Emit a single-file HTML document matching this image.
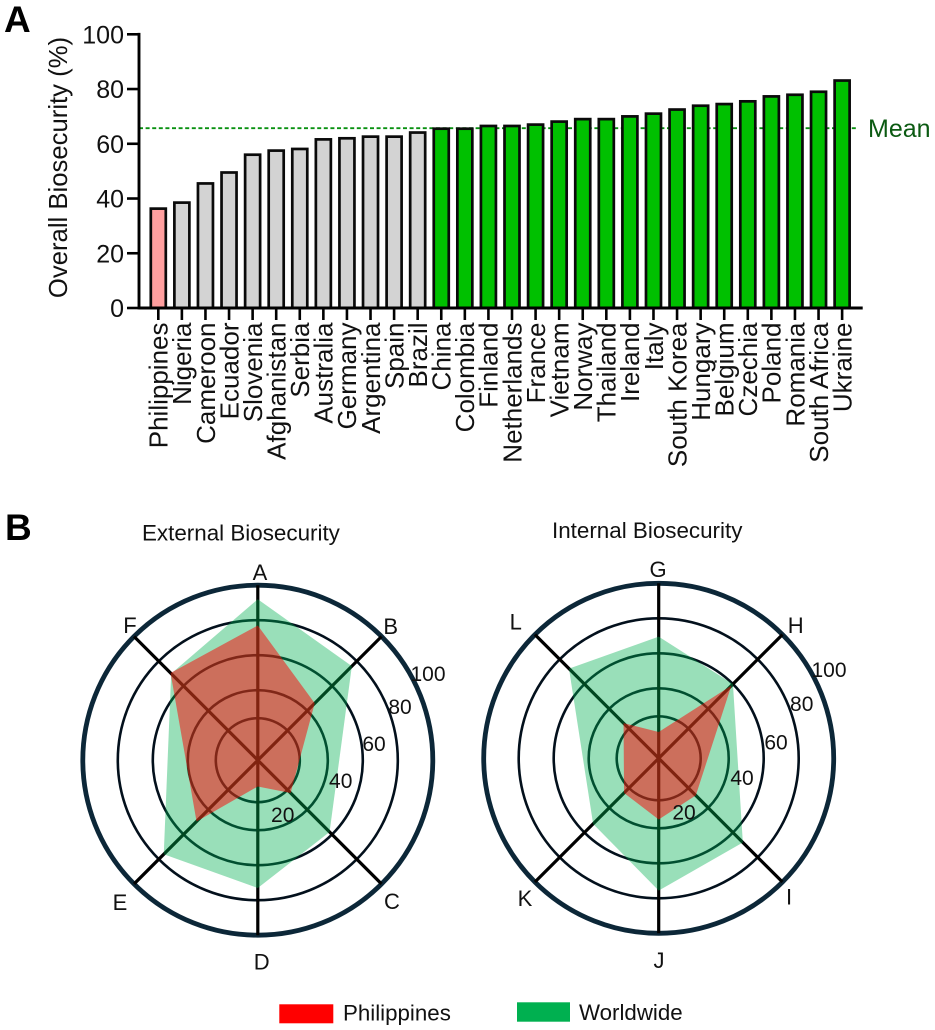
<!DOCTYPE html>
<html lang="en">
<head>
<meta charset="utf-8">
<title>Biosecurity chart</title>
<style>
html,body{margin:0;padding:0;background:#fff;width:935px;height:1030px;overflow:hidden}
svg{display:block;font-family:"Liberation Sans",Arial,sans-serif}
</style>
</head>
<body>
<svg id="chart" xmlns="http://www.w3.org/2000/svg" width="935" height="1030" viewBox="0 0 935 1030">
<text x="4" y="32" font-size="37" font-weight="700" fill="#000">A</text>
<text x="5" y="540" font-size="37" font-weight="700" fill="#000">B</text>
<text x="142" y="540.5" font-size="22.4" fill="#111">External Biosecurity</text>
<text x="552" y="538" font-size="22.4" fill="#111">Internal Biosecurity</text>
<text transform="translate(67,167.5) rotate(-90)" text-anchor="middle" font-size="25.7" fill="#111">Overall Biosecurity (%)</text>
<text x="868" y="137" font-size="25" fill="#0b5a12">Mean</text>
<g id="bars"></g>
<g id="radar-left"></g>
<g id="radar-right"></g>
<rect x="279.3" y="1004.3" width="54" height="19" fill="#ff0000"/>
<text x="343" y="1020.5" font-size="22.3" fill="#111">Philippines</text>
<rect x="517" y="1002.3" width="53" height="19.4" fill="#00b050"/>
<text x="579" y="1020" font-size="22.3" fill="#111">Worldwide</text>
</svg>
<script>
const countries = ["Philippines","Nigeria","Cameroon","Ecuador","Slovenia","Afghanistan","Serbia","Australia","Germany","Argentina","Spain","Brazil","China","Colombia","Finland","Netherlands","France","Vietnam","Norway","Thailand","Ireland","Italy","South Korea","Hungary","Belgium","Czechia","Poland","Romania","South Africa","Ukraine"];
const overallScores = [36.8,39,46,50,56.5,58,58.6,62.1,62.5,63.1,63.1,64.6,66,66,67,67,67.5,68.6,69.5,69.5,70.5,71.5,73,74.4,75,76,77.8,78.4,79.5,83.6];
const meanScore = 65.7;
const yTicks = [0,20,40,60,80,100];
const externalAxes = ["A","B","C","D","E","F"];
const externalWorldwide = [92,76,58,73,76,70];
const externalPhilippines = [77,46,26.5,15,49.5,70.5];
const internalAxes = ["G","H","I","J","K","L"];
const internalWorldwide = [69.5,60,68,75.6,53,72.5];
const internalPhilippines = [15,58.7,30,35,28,28.4];
const ringValues = [24,40,60,80,100];
const ringLabels = ["20","40","60","80","100"];

const NS = "http://www.w3.org/2000/svg";
function make(tag, parent, attrs, text) {
  const el = document.createElementNS(NS, tag);
  for (const k in attrs) el.setAttribute(k, attrs[k]);
  if (text !== undefined) el.textContent = text;
  parent.appendChild(el);
  return el;
}

/* ---------- bar chart ---------- */
const plot = {x0:139, y0:308, yTop:34.3, first:158.3, step:23.58, barW:15, right:862.7};
const yScale = v => plot.y0 - (v / 100) * (plot.y0 - plot.yTop);
const xScale = i => plot.first + i * plot.step;
const barsG = document.getElementById("bars");

const meanLine = make("line", barsG, {x1:plot.x0, x2:858, y1:yScale(meanScore), y2:yScale(meanScore), stroke:"#089010", "stroke-width":1.8, "stroke-dasharray":"4 2.6"});



countries.forEach((name, i) => {
  const fill = i === 0 ? "#ff9f9f" : (overallScores[i] >= meanScore ? "#00c000" : "#d3d3d3");
  const y = yScale(overallScores[i]);
  const bar = make("rect", barsG, {x:xScale(i) - plot.barW / 2, y:y + 1.35, width:plot.barW, height:plot.y0 - y - 1.35, fill:fill, stroke:"#0a0a0a", "stroke-width":2.7});
  
  
  const tick = make("line", barsG, {x1:xScale(i), x2:xScale(i), y1:plot.y0, y2:320, stroke:"#000", "stroke-width":2.6});
  
  
  const label = make("text", barsG, {transform:"translate(" + (xScale(i) + 9.3) + ",322.5) rotate(-90)", "text-anchor":"end", "font-size":26, fill:"#111"}, name);
  
  
});

const yAxis = make("line", barsG, {x1:plot.x0, x2:plot.x0, y1:plot.yTop - 1.4, y2:plot.y0 + 1.4, stroke:"#000", "stroke-width":2.9});


const xAxis = make("line", barsG, {x1:plot.x0, x2:plot.right, y1:plot.y0, y2:plot.y0, stroke:"#000", "stroke-width":2.9});


yTicks.forEach(v => {
  const t = make("line", barsG, {x1:127, x2:plot.x0, y1:yScale(v), y2:yScale(v), stroke:"#000", "stroke-width":2.6});
  
  
  const l = make("text", barsG, {x:124, y:yScale(v) + 9, "text-anchor":"end", "font-size":25, fill:"#111"}, String(v));
  
  
});

/* ---------- radar charts ---------- */
const axisAngles = [0,45,135,180,225,315];
function radar(group, cx, cy, axes, world, phil, axisLabelPos, ringLabelPos) {
  const unit = 1.75;
  const pt = (v, k) => {
    const a = axisAngles[k] * Math.PI / 180;
    return [cx + v * unit * Math.sin(a), cy - v * unit * Math.cos(a)];
  };
  ringValues.forEach(v => {
    const outer = v === 100;
    const ring = make("circle", group, {cx:cx, cy:cy, r:v * unit, fill:"none", stroke:outer ? "#0c2738" : "#03101c", "stroke-width":outer ? 4.8 : 2.6});
    
    
  });
  axes.forEach((a, k) => {
    const e = pt(100, k);
    const sp = make("line", group, {x1:cx, y1:cy, x2:e[0], y2:e[1], stroke:"#000", "stroke-width":3.2});
    
    
  });
  const worldPoly = make("polygon", group, {points:world.map((v, k) => pt(v, k).join(",")).join(" "), fill:"#00b050", "fill-opacity":0.4});
  
  
  const philPoly = make("polygon", group, {points:phil.map((v, k) => pt(v, k).join(",")).join(" "), fill:"#ff0000", "fill-opacity":0.5});
  
  
  axes.forEach((a, k) => {
    const t = make("text", group, {x:axisLabelPos[k][0], y:axisLabelPos[k][1] + 8, "text-anchor":"middle", "font-size":22, fill:"#111"}, a);
    
    
  });
  ringLabels.forEach((s, k) => {
    const t = make("text", group, {x:ringLabelPos[k][0], y:ringLabelPos[k][1] + 8, "text-anchor":"middle", "font-size":21, fill:"#111"}, s);
    
    
  });
}
radar(document.getElementById("radar-left"), 257.8, 760.2, externalAxes, externalWorldwide, externalPhilippines,
  [[260,572],[390.7,626],[392,901],[261.7,961.7],[120,902],[130,625]],
  [[282.7,814],[340.7,780],[374,743],[400,706],[428,673]]);
radar(document.getElementById("radar-right"), 658.7, 758.3, internalAxes, internalWorldwide, internalPhilippines,
  [[658,569],[795.7,625],[789,896.7],[659,960],[525,898],[515.7,621.7]],
  [[684,811.7],[742,777],[776,741.7],[801.7,703],[829,669]]);
</script>
</body>
</html>
